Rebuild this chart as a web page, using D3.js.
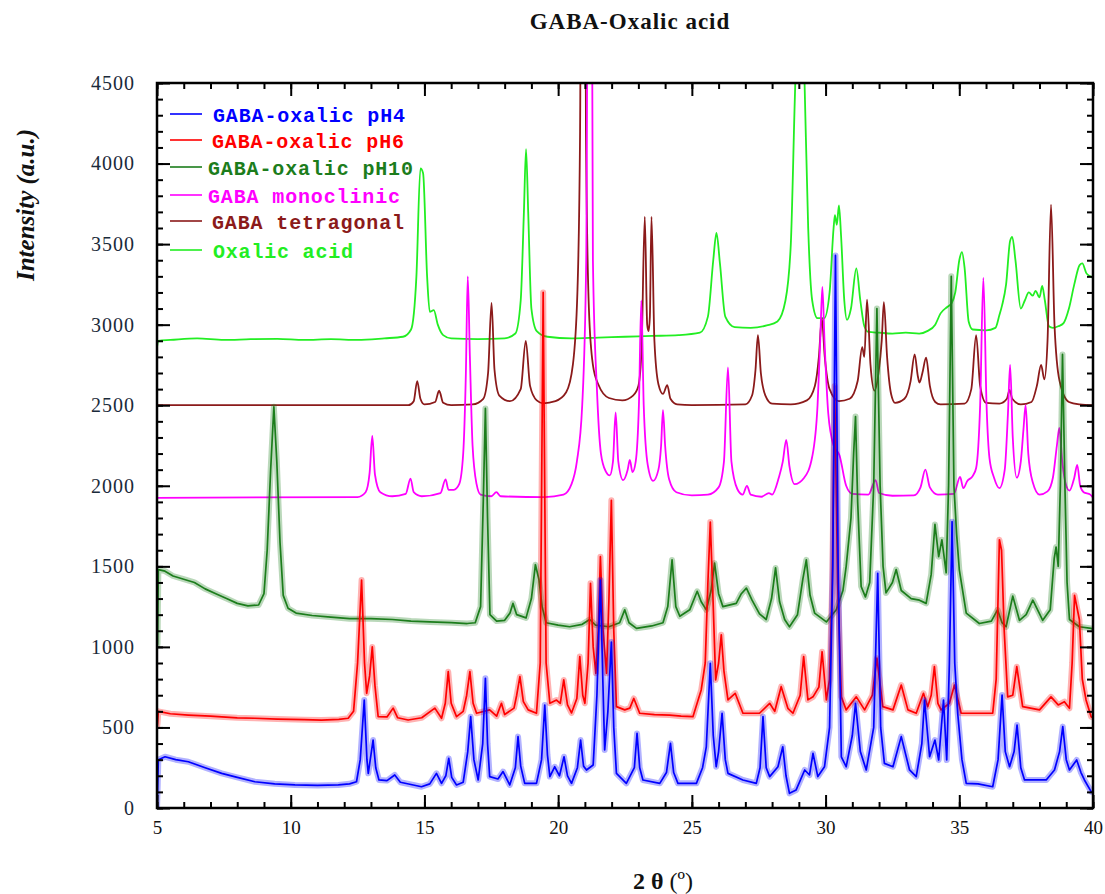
<!DOCTYPE html>
<html>
<head>
<meta charset="utf-8">
<script src="https://cdn.jsdelivr.net/npm/d3@7"></script>
<style>
  html, body { margin: 0; padding: 0; background: #ffffff; }
  svg { display: block; }
</style>
</head>
<body>
<svg id="chart" width="1105" height="894"></svg>
<script>
// ---- Data: powder diffraction patterns, [2θ (deg), intensity (a.u.)] ----
const seriesNames = [
  "GABA-oxalic pH4",
  "GABA-oxalic pH6",
  "GABA-oxalic pH10",
  "GABA monoclinic",
  "GABA tetragonal",
  "Oxalic acid"
];

const xTicks = [5, 10, 15, 20, 25, 30, 35, 40];
const yTicks = [0, 500, 1000, 1500, 2000, 2500, 3000, 3500, 4000, 4500];

const gabaOxalicPH4 = [
  [5, 0], [5.02, 100], [5.05, 300], [5.3, 318], [5.7, 300], [6.17, 287], [6.8, 250], [7.42, 215],
  [8.0, 190], [8.66, 163], [9.4, 150], [10.16, 143], [11.0, 140], [11.78, 143], [12.2, 150],
  [12.46, 163], [12.6, 300], [12.75, 670], [12.85, 300], [12.9, 215], [13.0, 330], [13.08, 422],
  [13.18, 250], [13.3, 174], [13.6, 170], [13.89, 205], [14.1, 160], [14.89, 132], [15.2, 150],
  [15.45, 215], [15.64, 153], [15.8, 200], [15.91, 308], [16.02, 190], [16.2, 143], [16.45, 160],
  [16.62, 350], [16.73, 567], [16.85, 300], [17.01, 174], [17.18, 400], [17.28, 805], [17.36, 400],
  [17.44, 195], [17.75, 180], [17.94, 226], [18.19, 143], [18.4, 250], [18.5, 443], [18.6, 260],
  [18.75, 153], [19.19, 153], [19.38, 300], [19.5, 639], [19.6, 330], [19.69, 195], [19.87, 256],
  [20.05, 200], [20.22, 318], [20.35, 200], [20.5, 153], [20.72, 250], [20.84, 422], [20.95, 260],
  [21.06, 236], [21.31, 267], [21.45, 700], [21.58, 1415], [21.67, 800], [21.74, 360], [21.86, 600],
  [21.99, 1030], [22.08, 500], [22.18, 215], [22.55, 153], [22.85, 250], [22.95, 463], [23.05, 250],
  [23.17, 174], [23.8, 153], [24.05, 220], [24.2, 401], [24.32, 220], [24.48, 153], [25.17, 153],
  [25.4, 250], [25.54, 380], [25.69, 898], [25.8, 450], [25.91, 256], [26.0, 350], [26.13, 588],
  [26.25, 300], [26.35, 215], [26.91, 174], [27.41, 153], [27.55, 250], [27.66, 567], [27.78, 250],
  [27.91, 195], [28.22, 256], [28.4, 380], [28.52, 200], [28.65, 91], [28.9, 112], [29.22, 236],
  [29.4, 205], [29.53, 339], [29.71, 195], [29.96, 256], [30.15, 500], [30.27, 1500], [30.37, 3430],
  [30.47, 1500], [30.59, 318], [30.77, 256], [31.0, 450], [31.12, 650], [31.3, 350], [31.52, 236],
  [31.8, 500], [31.95, 1457], [32.06, 500], [32.2, 277], [32.52, 256], [32.83, 443], [33.14, 236],
  [33.39, 195], [33.6, 400], [33.7, 670], [33.89, 318], [34.09, 422], [34.23, 298], [34.41, 670],
  [34.53, 298], [34.63, 900], [34.73, 1777], [34.83, 900], [34.94, 588], [35.1, 300], [35.26, 153],
  [35.7, 150], [36.25, 132], [36.45, 300], [36.6, 701], [36.72, 350], [36.88, 256], [37.05, 350],
  [37.16, 515], [37.3, 250], [37.44, 174], [38.25, 174], [38.56, 236], [38.75, 350], [38.87, 505],
  [39.0, 300], [39.12, 236], [39.39, 298], [39.55, 220], [39.68, 174], [39.93, 102], [40, 95]
];

const gabaOxalicPH6 = [
  [5, 500], [5.02, 525], [5.05, 600], [5.5, 585], [6.17, 577], [7.0, 570], [8.0, 560], [8.66, 557],
  [9.5, 552], [10.5, 548], [11.15, 546], [11.8, 550], [12.15, 557], [12.35, 600], [12.5, 900],
  [12.65, 1415], [12.76, 900], [12.84, 712], [12.95, 820], [13.05, 1000], [13.15, 760], [13.27, 567],
  [13.6, 565], [13.83, 620], [14.0, 560], [14.39, 546], [14.9, 560], [15.39, 620], [15.64, 557],
  [15.78, 650], [15.89, 846], [16.0, 650], [16.2, 567], [16.45, 600], [16.58, 700], [16.7, 846],
  [16.82, 650], [16.95, 588], [17.44, 609], [17.7, 570], [17.88, 650], [18.0, 580], [18.35, 620],
  [18.45, 700], [18.57, 815], [18.7, 660], [18.88, 609], [19.19, 588], [19.33, 900], [19.44, 3200],
  [19.55, 900], [19.69, 650], [19.94, 670], [20.08, 650], [20.21, 795], [20.35, 640], [20.5, 590],
  [20.7, 680], [20.81, 940], [20.92, 700], [21.0, 650], [21.12, 900], [21.21, 1395], [21.31, 1000],
  [21.41, 836], [21.5, 1100], [21.58, 1560], [21.68, 1100], [21.81, 836], [21.9, 1300], [21.99, 1910],
  [22.08, 1100], [22.18, 629], [22.49, 609], [22.68, 620], [22.83, 680], [23.05, 588], [23.6, 580],
  [24.17, 577], [24.6, 570], [25.04, 567], [25.35, 733], [25.5, 900], [25.6, 1400], [25.69, 1775],
  [25.79, 1300], [25.89, 795], [26.0, 900], [26.1, 1075], [26.2, 850], [26.35, 671], [26.62, 712],
  [26.91, 588], [27.53, 588], [27.91, 650], [28.1, 600], [28.34, 753], [28.59, 619], [28.78, 588],
  [29.05, 700], [29.18, 940], [29.34, 671], [29.53, 690], [29.75, 750], [29.87, 970], [30.03, 671],
  [30.15, 800], [30.25, 1400], [30.34, 2620], [30.45, 1400], [30.59, 690], [30.77, 609], [31.15, 690],
  [31.46, 609], [31.75, 700], [31.92, 930], [32.14, 629], [32.52, 609], [32.83, 763], [33.08, 609],
  [33.39, 588], [33.66, 712], [33.82, 629], [33.95, 700], [34.07, 877], [34.2, 650], [34.32, 609],
  [34.63, 650], [34.82, 763], [35.07, 588], [35.75, 588], [36.25, 588], [36.38, 800], [36.5, 1665],
  [36.58, 1600], [36.68, 1100], [36.81, 690], [37.0, 700], [37.15, 877], [37.37, 629], [38.0, 609],
  [38.43, 690], [38.7, 640], [38.93, 660], [39.12, 619], [39.22, 900], [39.31, 1320], [39.49, 1170],
  [39.6, 800], [39.74, 671], [39.93, 567], [40, 560]
];

const gabaOxalicPH10 = [
  [5, 1000], [5.02, 1020], [5.05, 1480], [5.3, 1470], [5.6, 1440], [6.0, 1420], [6.4, 1400],
  [6.8, 1360], [7.2, 1330], [7.6, 1300], [8.0, 1270], [8.4, 1255], [8.8, 1260], [9.0, 1330],
  [9.12, 1600], [9.25, 2100], [9.37, 2490], [9.48, 2150], [9.6, 1650], [9.72, 1320], [9.9, 1240],
  [10.2, 1210], [10.8, 1195], [11.5, 1185], [12.2, 1175], [13.0, 1175], [13.8, 1170], [14.5, 1160],
  [15.2, 1155], [16.0, 1150], [16.6, 1145], [16.9, 1150], [17.1, 1250], [17.2, 1900], [17.28, 2480],
  [17.36, 1800], [17.45, 1200], [17.7, 1160], [18.0, 1165], [18.2, 1210], [18.31, 1270], [18.45, 1200],
  [18.8, 1180], [19.0, 1300], [19.15, 1510], [19.28, 1420], [19.4, 1250], [19.55, 1150], [20.0, 1135],
  [20.43, 1125], [20.9, 1140], [21.18, 1170], [21.4, 1135], [21.9, 1125], [22.3, 1150], [22.49, 1230],
  [22.65, 1150], [22.93, 1115], [23.5, 1130], [23.92, 1150], [24.1, 1250], [24.26, 1540], [24.4, 1250],
  [24.55, 1190], [24.92, 1230], [25.2, 1345], [25.35, 1280], [25.54, 1230], [25.72, 1350], [25.85, 1520],
  [26.0, 1330], [26.16, 1250], [26.66, 1270], [26.85, 1330], [27.04, 1365], [27.25, 1290], [27.53, 1205],
  [27.78, 1170], [27.98, 1300], [28.13, 1490], [28.28, 1280], [28.47, 1170], [28.65, 1125], [28.95, 1200],
  [29.15, 1420], [29.28, 1540], [29.42, 1320], [29.59, 1210], [30.03, 1155], [30.4, 1230], [30.65, 1350],
  [30.77, 1500], [30.95, 1800], [31.05, 2200], [31.12, 2430], [31.2, 1900], [31.33, 1375], [31.49, 1310],
  [31.65, 1400], [31.8, 2000], [31.92, 3100], [32.04, 2000], [32.15, 1500], [32.26, 1335], [32.5, 1400],
  [32.64, 1480], [32.83, 1350], [33.2, 1300], [33.51, 1290], [33.76, 1270], [33.95, 1450], [34.09, 1760],
  [34.23, 1560], [34.35, 1665], [34.51, 1460], [34.6, 2000], [34.7, 3300], [34.8, 2000], [34.9, 1700],
  [35.0, 1480], [35.26, 1210], [35.75, 1145], [36.2, 1160], [36.43, 1230], [36.6, 1150], [36.75, 1125],
  [37.0, 1315], [37.25, 1165], [37.5, 1200], [37.75, 1290], [38.12, 1165], [38.4, 1230], [38.55, 1550],
  [38.62, 1620], [38.7, 1500], [38.78, 2000], [38.86, 2815], [38.95, 2000], [39.03, 1400], [39.12, 1170],
  [39.49, 1125], [39.93, 1115], [40.0, 1110]
];

const gabaMonoclinic = [
  [5, 1925], [12.5, 1930], [12.8, 1960], [12.95, 2080], [13.05, 2310], [13.15, 2070], [13.35, 1960],
  [13.8, 1935], [14.3, 1950], [14.48, 2045], [14.6, 1960], [14.9, 1935], [15.6, 1955], [15.79, 2040],
  [15.9, 1975], [16.1, 1975], [16.3, 2010], [16.45, 2200], [16.55, 2700], [16.62, 3300], [16.7, 2800],
  [16.8, 2250], [16.95, 2010], [17.1, 1945], [17.5, 1935], [17.69, 1960], [17.85, 1935], [19.5, 1930],
  [20.2, 1945], [20.5, 2010], [20.7, 2150], [20.9, 2500], [21.05, 3400], [21.18, 9000], [21.3, 3400],
  [21.45, 2600], [21.6, 2200], [21.78, 2090], [21.93, 2065], [22.05, 2150], [22.15, 2455], [22.25, 2150],
  [22.43, 2035], [22.6, 2100], [22.68, 2160], [22.78, 2085], [22.9, 2150], [23.02, 2500], [23.11, 3150],
  [23.2, 2500], [23.35, 2130], [23.55, 2030], [23.75, 2100], [23.85, 2250], [23.92, 2470], [24.0, 2250],
  [24.15, 2040], [24.42, 1960], [25.0, 1940], [25.6, 1945], [26.0, 1990], [26.2, 2150], [26.35, 2735],
  [26.48, 2150], [26.7, 1980], [26.9, 1945], [27.06, 2000], [27.2, 1945], [27.6, 1932], [27.88, 1955],
  [28.0, 1945], [28.25, 2050], [28.4, 2150], [28.53, 2285], [28.65, 2120], [28.84, 2010], [29.2, 2050],
  [29.5, 2180], [29.7, 2500], [29.8, 2900], [29.88, 3235], [29.96, 2900], [30.1, 2450], [30.3, 2250],
  [30.52, 2190], [30.77, 2000], [31.0, 1950], [31.6, 1945], [31.87, 2035], [32.0, 1955], [32.5, 1938],
  [33.3, 1940], [33.55, 1990], [33.73, 2100], [33.9, 1990], [34.2, 1945], [34.8, 1950], [35.03, 2055],
  [35.15, 1985], [35.3, 2030], [35.5, 2060], [35.63, 2110], [35.78, 2500], [35.9, 3290], [36.02, 2500],
  [36.13, 2170], [36.3, 2050], [36.5, 1985], [36.7, 2100], [36.82, 2450], [36.9, 2750], [37.0, 2300],
  [37.15, 2050], [37.3, 2150], [37.4, 2350], [37.48, 2500], [37.58, 2200], [37.75, 2020], [38.0, 1945],
  [38.3, 1965], [38.5, 2050], [38.65, 2250], [38.74, 2360], [38.85, 2150], [39.0, 2000], [39.12, 1970],
  [39.3, 2050], [39.41, 2130], [39.52, 2000], [39.65, 1960], [39.9, 1945], [40, 1925]
];

const gabaTetragonal = [
  [5, 2500], [14.4, 2500], [14.6, 2525], [14.73, 2650], [14.85, 2540], [15.0, 2505], [15.4, 2520],
  [15.55, 2590], [15.7, 2515], [16.0, 2500], [16.8, 2505], [17.2, 2540], [17.38, 2700], [17.51, 3135],
  [17.62, 2720], [17.8, 2560], [18.2, 2525], [18.6, 2600], [18.79, 2900], [18.95, 2620], [19.2, 2530],
  [19.44, 2512], [19.9, 2525], [20.3, 2580], [20.55, 2750], [20.72, 3200], [20.82, 4200], [20.93, 9000],
  [21.04, 4200], [21.15, 3100], [21.3, 2750], [21.5, 2630], [21.9, 2545], [22.4, 2530], [22.8, 2560],
  [23.0, 2620], [23.12, 2850], [23.24, 3670], [23.33, 3000], [23.38, 2960], [23.43, 3050], [23.49, 3670],
  [23.6, 2900], [23.75, 2630], [23.92, 2570], [24.08, 2625], [24.2, 2540], [24.45, 2505], [25, 2500],
  [27.0, 2505], [27.25, 2560], [27.38, 2720], [27.47, 2935], [27.58, 2700], [27.75, 2560], [28.0, 2510],
  [28.7, 2505], [29.3, 2530], [29.6, 2620], [29.75, 2800], [29.86, 3040], [29.97, 2800], [30.15, 2600],
  [30.5, 2525], [30.9, 2540], [31.2, 2650], [31.37, 2860], [31.45, 2800], [31.55, 3155], [31.68, 2750],
  [31.83, 2590], [31.98, 2700], [32.1, 2900], [32.18, 3140], [32.3, 2800], [32.45, 2570], [32.6, 2515],
  [32.95, 2540], [33.18, 2650], [33.33, 2815], [33.45, 2680], [33.51, 2640], [33.62, 2700], [33.76, 2795],
  [33.9, 2620], [34.1, 2520], [34.3, 2505], [35.2, 2510], [35.45, 2600], [35.63, 2935], [35.78, 2620],
  [36.0, 2515], [36.5, 2510], [36.78, 2540], [36.88, 2595], [36.98, 2540], [37.3, 2505], [37.7, 2520],
  [37.9, 2620], [38.06, 2750], [38.18, 2660], [38.3, 2900], [38.43, 3745], [38.56, 3000], [38.75, 2650],
  [39.1, 2520], [39.5, 2505], [40, 2500]
];

const oxalicAcid = [
  [5.0, 2860], [5.05, 2900], [5.5, 2905], [6.5, 2915], [7.5, 2905], [8.5, 2910], [9.5, 2912],
  [10.5, 2905], [11.5, 2910], [12.5, 2905], [13.5, 2915], [14.2, 2925], [14.5, 2970], [14.7, 3300],
  [14.85, 3970], [14.95, 3940], [15.1, 3300], [15.2, 3080], [15.35, 3090], [15.5, 3000], [15.7, 2935],
  [16.0, 2915], [17.0, 2910], [18.0, 2915], [18.4, 2945], [18.6, 3150], [18.72, 3700], [18.8, 4090],
  [18.88, 3700], [19.0, 3100], [19.2, 2960], [19.6, 2925], [20.5, 2915], [21.5, 2920], [22.5, 2925],
  [23.5, 2930], [24.5, 2935], [25.3, 2950], [25.6, 3050], [25.8, 3400], [25.92, 3570], [26.05, 3380],
  [26.25, 3050], [26.6, 2985], [27.2, 2980], [27.8, 2995], [28.2, 3020], [28.5, 3150], [28.7, 3500],
  [28.85, 4400], [29.05, 5400], [29.2, 4600], [29.35, 3600], [29.5, 3150], [29.7, 3040], [29.95, 3040],
  [30.15, 3200], [30.3, 3600], [30.35, 3680], [30.42, 3620], [30.5, 3740], [30.58, 3550], [30.7, 3150],
  [30.8, 3030], [30.95, 3100], [31.15, 3350], [31.3, 3150], [31.45, 2990], [31.6, 2955], [32.0, 2950],
  [32.5, 2945], [33.0, 2950], [33.5, 2945], [33.8, 2960], [34.1, 3000], [34.3, 3070], [34.55, 3110],
  [34.7, 3130], [34.85, 3200], [35.0, 3400], [35.1, 3450], [35.2, 3350], [35.35, 3020], [35.5, 2970],
  [36.0, 2965], [36.35, 2980], [36.5, 3060], [36.6, 3120], [36.75, 3250], [36.9, 3520], [36.98, 3545],
  [37.1, 3400], [37.3, 3100], [37.45, 3150], [37.6, 3200], [37.75, 3180], [37.85, 3210], [38.0, 3170],
  [38.1, 3240], [38.2, 3150], [38.35, 2990], [38.5, 2980], [38.7, 2990], [38.9, 3010], [39.1, 3100],
  [39.3, 3250], [39.5, 3370], [39.6, 3380], [39.75, 3320], [39.9, 3300], [40.0, 3290]
];

// ---- Presentation ----
const seriesData = [gabaOxalicPH4, gabaOxalicPH6, gabaOxalicPH10, gabaMonoclinic, gabaTetragonal, oxalicAcid];
const seriesColors = ["#0000ff", "#ff0000", "#1c7d1c", "#ff00ff", "#8b1a1a", "#22ee22"];
const measured = [true, true, true, false, false, false];

const svg = d3.select("#chart");
const W = 1105, H = 894;
const plot = { left: 157, right: 1093, top: 83, bottom: 808 };

const x = d3.scaleLinear().domain([5, 40]).range([plot.left, plot.right]);
const y = d3.scaleLinear().domain([0, 4500]).range([plot.bottom, plot.top]);

svg.append("rect").attr("width", W).attr("height", H).attr("fill", "#ffffff");

svg.append("defs").append("clipPath").attr("id", "plot-clip")
  .append("rect")
  .attr("x", plot.left).attr("y", plot.top)
  .attr("width", plot.right - plot.left).attr("height", plot.bottom - plot.top);

// Patterns: drawn from last to first so the measured samples sit on top
const linear = d3.line().x(d => x(d[0])).y(d => y(d[1])).curve(d3.curveLinear);
const smooth = d3.line().x(d => x(d[0])).y(d => y(d[1])).curve(d3.curveMonotoneX);

const gLines = svg.append("g").attr("clip-path", "url(#plot-clip)");
for (let i = seriesData.length - 1; i >= 0; i--) {
  const gen = measured[i] ? linear : smooth;
  if (measured[i]) {
    // soft band that gives the counting-noise thickness of a measured scan
    gLines.append("path")
      .attr("d", gen(seriesData[i]))
      .attr("fill", "none")
      .attr("stroke", seriesColors[i])
      .attr("stroke-width", 6)
      .attr("stroke-opacity", 0.3)
      .attr("stroke-linejoin", "round");
  }
  gLines.append("path")
    .attr("d", gen(seriesData[i]))
    .attr("fill", "none")
    .attr("stroke", seriesColors[i])
    .attr("stroke-width", measured[i] ? 1.7 : 1.8)
    .attr("stroke-linejoin", "round");
}

// ---- Axes: ticks point inward on all four sides ----
const xMinor = d3.range(5, 40.01, 1);
const yMinor = d3.range(0, 4500.1, 100);
const tickFont = "'Liberation Serif', 'Times New Roman', serif";

function styleAxis(g) {
  g.select(".domain").remove();
  g.selectAll(".tick line").attr("stroke", "#000").attr("stroke-width", 2);
}

// bottom
svg.append("g").attr("transform", `translate(0,${plot.bottom})`)
  .call(d3.axisBottom(x).tickValues(xMinor).tickSize(-6).tickFormat(""))
  .call(styleAxis);
svg.append("g").attr("transform", `translate(0,${plot.bottom})`)
  .call(d3.axisBottom(x).tickValues(xTicks).tickSize(-13).tickPadding(13).tickFormat(d3.format("d")))
  .call(styleAxis)
  .call(g => g.selectAll("text").attr("font-family", tickFont).attr("font-size", 19).attr("fill", "#111"));
// top
svg.append("g").attr("transform", `translate(0,${plot.top})`)
  .call(d3.axisTop(x).tickValues(xMinor).tickSize(-6).tickFormat(""))
  .call(styleAxis);
svg.append("g").attr("transform", `translate(0,${plot.top})`)
  .call(d3.axisTop(x).tickValues(xTicks).tickSize(-13).tickFormat(""))
  .call(styleAxis);
// left
svg.append("g").attr("transform", `translate(${plot.left},0)`)
  .call(d3.axisLeft(y).tickValues(yMinor).tickSize(-6).tickFormat(""))
  .call(styleAxis);
svg.append("g").attr("transform", `translate(${plot.left},0)`)
  .call(d3.axisLeft(y).tickValues(yTicks).tickSize(-13).tickPadding(22).tickFormat(d3.format("d")))
  .call(styleAxis)
  .call(g => g.selectAll("text").attr("font-family", tickFont).attr("font-size", 20)
    .attr("fill", "#1a2a3a").attr("letter-spacing", 1));
// right
svg.append("g").attr("transform", `translate(${plot.right},0)`)
  .call(d3.axisRight(y).tickValues(yMinor).tickSize(-6).tickFormat(""))
  .call(styleAxis);
svg.append("g").attr("transform", `translate(${plot.right},0)`)
  .call(d3.axisRight(y).tickValues(yTicks).tickSize(-13).tickFormat(""))
  .call(styleAxis);

// frame
svg.append("rect")
  .attr("x", plot.left).attr("y", plot.top)
  .attr("width", plot.right - plot.left).attr("height", plot.bottom - plot.top)
  .attr("fill", "none").attr("stroke", "#000").attr("stroke-width", 2.5);

// ---- Legend (typewriter-style labels, 13px per character) ----
const legendRows = [114, 140, 167, 195, 221, 250];
const legendTextX = [213, 212, 208, 208, 212, 213];
const legend = svg.append("g");
seriesNames.forEach((name, i) => {
  const row = legend.append("g").attr("transform", `translate(0,${legendRows[i]})`);
  row.append("line")
    .attr("x1", 170).attr("x2", 202).attr("y1", 0).attr("y2", 0)
    .attr("stroke", seriesColors[i]).attr("stroke-width", 1.6);
  row.append("text")
    .attr("x", legendTextX[i]).attr("y", 8)
    .attr("font-family", "'Liberation Mono', 'Courier New', monospace")
    .attr("font-size", 20)
    .attr("font-weight", "bold")
    .attr("fill", seriesColors[i])
    .attr("textLength", name.length * 13 - 3)
    .attr("lengthAdjust", "spacing")
    .text(name);
});

// ---- Titles ----
svg.append("text")
  .attr("x", 630).attr("y", 29)
  .attr("text-anchor", "middle")
  .attr("font-family", "'Liberation Serif', 'Times New Roman', serif")
  .attr("font-weight", "bold")
  .attr("font-size", 23)
  .attr("letter-spacing", 1)
  .attr("fill", "#111")
  .text("GABA-Oxalic acid");

svg.append("text")
  .attr("transform", "translate(34,205) rotate(-90)")
  .attr("text-anchor", "middle")
  .attr("font-family", "'Liberation Serif', 'Times New Roman', serif")
  .attr("font-weight", "bold")
  .attr("font-style", "italic")
  .attr("font-size", 25)
  .attr("fill", "#111")
  .text("Intensity (a.u.)");

const xTitle = svg.append("text")
  .attr("x", 663).attr("y", 889)
  .attr("text-anchor", "middle")
  .attr("font-family", "'Liberation Serif', 'Times New Roman', serif")
  .attr("font-size", 24)
  .attr("fill", "#111");
xTitle.append("tspan").attr("font-weight", "bold").text("2 θ");
xTitle.append("tspan").text(" (º)");
</script>
</body>
</html>
